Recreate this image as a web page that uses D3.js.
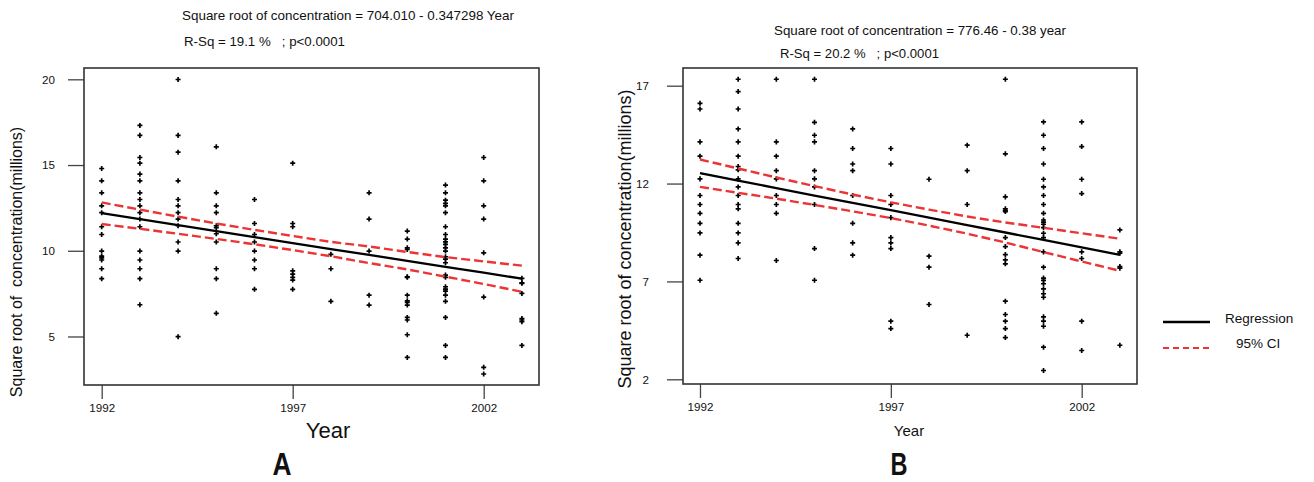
<!DOCTYPE html>
<html>
<head>
<meta charset="utf-8">
<script src="https://cdn.jsdelivr.net/npm/d3@7"></script>
<style>
body { margin: 0; background: #fff; }
text { font-family: "Liberation Sans", Arial, sans-serif; fill: #111; }
</style>
</head>
<body>
<div id="chart"></div>
<script>
var years = [1992, 1993, 1994, 1995, 1996, 1997, 1998, 1999, 2000, 2001, 2002, 2003];
var yearTicks = [1992, 1997, 2002];

// panel A values (square root of concentration), one list per year
var concA = [
  [14.80, 14.08, 13.38, 12.62, 12.22, 11.40, 10.95, 9.98, 9.69, 9.59, 9.46, 8.95, 8.37],
  [17.31, 16.73, 15.44, 15.11, 14.47, 14.08, 13.38, 12.99, 12.62, 12.22, 11.85, 11.40, 9.98, 9.46, 8.95, 8.37, 6.85],
  [19.99, 16.73, 15.75, 14.08, 12.99, 12.62, 12.22, 11.85, 11.46, 10.51, 9.98, 4.99],
  [16.06, 13.38, 12.62, 12.22, 11.46, 11.35, 10.99, 10.51, 8.95, 8.37, 6.35],
  [12.99, 11.59, 10.95, 10.51, 9.98, 9.46, 8.95, 7.75],
  [15.11, 11.59, 11.40, 8.83, 8.64, 8.45, 8.29, 7.75],
  [9.79, 8.95, 7.05],
  [13.38, 11.85, 9.98, 7.41, 6.83],
  [11.15, 10.68, 10.17, 10.08, 8.48, 8.45, 7.41, 7.08, 6.99, 6.83, 6.11, 5.96, 5.10, 3.78],
  [13.83, 13.38, 12.95, 12.76, 12.62, 12.22, 11.40, 10.95, 10.68, 10.52, 10.37, 10.17, 9.98, 9.65, 9.51, 9.30, 8.58, 8.45, 7.90, 7.76, 7.65, 7.41, 7.05, 6.11, 4.48, 3.78],
  [15.44, 14.08, 12.62, 11.85, 9.88, 7.30, 3.20, 2.81],
  [8.39, 8.13, 8.10, 7.51, 6.05, 5.96, 5.86, 4.48]
];
var fitA   = [12.19, 11.84, 11.49, 11.14, 10.80, 10.45, 10.10, 9.76, 9.41, 9.06, 8.72, 8.37];
var upperA = [12.82, 12.40, 11.99, 11.59, 11.22, 10.86, 10.52, 10.25, 9.93, 9.63, 9.38, 9.13];
var lowerA = [11.56, 11.28, 10.99, 10.69, 10.38, 10.04, 9.68, 9.28, 8.91, 8.49, 8.06, 7.61];
var yTicksA = [5, 10, 15, 20];

// panel B
var concB = [
  [16.10, 15.81, 14.13, 13.40, 12.24, 11.39, 10.93, 10.48, 9.97, 9.48, 8.34, 7.06],
  [17.33, 16.70, 15.81, 14.79, 14.13, 13.40, 12.87, 12.70, 12.24, 11.83, 11.39, 10.93, 10.71, 9.97, 9.48, 8.97, 8.17],
  [17.33, 14.13, 13.40, 12.66, 12.24, 11.39, 10.93, 10.48, 8.07],
  [17.33, 15.13, 14.47, 14.13, 12.66, 12.24, 11.83, 10.93, 8.68, 7.06],
  [14.79, 13.79, 13.00, 12.66, 11.39, 9.97, 8.97, 8.34],
  [13.79, 13.00, 11.39, 10.93, 10.26, 9.24, 8.97, 8.68, 4.97, 4.59],
  [12.22, 8.29, 7.73, 5.82],
  [13.96, 12.66, 10.93, 4.25],
  [17.33, 13.52, 11.32, 10.71, 10.62, 10.57, 9.24, 8.78, 8.37, 8.10, 7.90, 5.99, 5.31, 4.97, 4.59, 4.13],
  [15.15, 14.47, 13.79, 13.00, 12.22, 11.83, 11.39, 10.93, 10.48, 10.14, 10.03, 9.92, 9.75, 9.46, 9.24, 8.51, 7.73, 7.17, 7.05, 6.88, 6.62, 6.37, 6.19, 5.19, 4.97, 4.71, 3.64, 2.45],
  [15.15, 13.89, 12.22, 11.49, 8.51, 8.17, 4.97, 3.47],
  [9.63, 8.51, 8.44, 7.76, 7.68, 3.74]
];
var fitB   = [12.53, 12.15, 11.77, 11.39, 11.01, 10.64, 10.26, 9.88, 9.50, 9.12, 8.74, 8.36];
var upperB = [13.23, 12.77, 12.31, 11.87, 11.44, 11.04, 10.67, 10.32, 10.01, 9.74, 9.46, 9.18];
var lowerB = [11.83, 11.53, 11.23, 10.91, 10.58, 10.24, 9.85, 9.44, 8.99, 8.50, 8.02, 7.54];
var yTicksB = [2, 7, 12, 17];

var legendItems = ["Regression", "95% CI"];

var svg = d3.select("#chart").append("svg")
    .attr("width", 1314)
    .attr("height", 482);

var red = "#ec3434";

function drawPanel(p) {
  var x = d3.scaleLinear().domain(p.xDomain).range([p.left, p.right]);
  var y = d3.scaleLinear().domain(p.yDomain).range([p.bottom, p.top]);
  var g = svg.append("g");

  var yAxis = d3.axisLeft(y).tickValues(p.yTicks).tickSize(16).tickPadding(p.yPad).tickFormat(d3.format("d"));
  var ya = g.append("g").attr("transform", "translate(" + p.left + ",0)").call(yAxis);
  var xAxis = d3.axisBottom(x).tickValues(yearTicks).tickSize(14).tickPadding(5).tickFormat(d3.format("d"));
  var xa = g.append("g").attr("transform", "translate(0," + p.bottom + ")").call(xAxis);
  [ya, xa].forEach(function(a) {
    a.select(".domain").remove();
    a.selectAll("line").attr("stroke", "#444").attr("stroke-width", 1.3);
    a.selectAll("text").style("font-family", "'Liberation Sans', Arial, sans-serif").style("font-size", "11.6px").attr("fill", "#222");
  });

  g.append("rect")
    .attr("x", p.left).attr("y", p.top)
    .attr("width", p.right - p.left).attr("height", p.bottom - p.top)
    .attr("fill", "none").attr("stroke", "#333").attr("stroke-width", 1.6);

  var pts = [];
  p.conc.forEach(function(list, i) {
    list.forEach(function(v) { pts.push([years[i], v]); });
  });
  g.selectAll("path.pt").data(pts).enter().append("path")
    .attr("class", "pt")
    .attr("d", d3.symbol().type(d3.symbolCross).size(14))
    .attr("transform", function(d) { return "translate(" + x(d[0]) + "," + y(d[1]) + ")"; })
    .attr("fill", "#000");

  var line = d3.line().x(function(d, i) { return x(years[i]); }).y(function(d) { return y(d); });
  g.append("path").datum(p.fit).attr("d", line)
    .attr("fill", "none").attr("stroke", "#000").attr("stroke-width", 2.3);
  [p.upper, p.lower].forEach(function(s) {
    g.append("path").datum(s).attr("d", line)
      .attr("fill", "none").attr("stroke", red).attr("stroke-width", 2.4)
      .attr("stroke-dasharray", "9,4");
  });

  g.append("text")
    .attr("transform", "translate(" + p.yLabelX + "," + p.yLabelY + ") rotate(-90)")
    .attr("text-anchor", "middle").attr("dominant-baseline", "central")
    .attr("xml:space", "preserve")
    .style("font-size", p.yLabelSize + "px")
    .text(p.yLabel);

  g.append("text").attr("x", p.titleX).attr("y", p.titleY)
    .attr("dominant-baseline", "central").style("font-size", "13.4px")
    .attr("textLength", p.titleW).attr("lengthAdjust", "spacingAndGlyphs")
    .text(p.title);
  g.append("text").attr("x", p.rsqX).attr("y", p.rsqY)
    .attr("dominant-baseline", "central").style("font-size", "13.4px")
    .attr("xml:space", "preserve")
    .attr("textLength", p.rsqW).attr("lengthAdjust", "spacingAndGlyphs")
    .text(p.rsq);

  g.append("text").attr("x", p.yearX).attr("y", 430)
    .attr("text-anchor", "middle").attr("dominant-baseline", "central")
    .style("font-size", p.yearSize + "px")
    .text("Year");

  g.append("text").attr("x", p.letterX).attr("y", 475)
    .attr("text-anchor", "middle")
    .style("font-family", "'Liberation Sans Narrow', 'Arial Narrow', 'Liberation Sans', sans-serif")
    .style("font-weight", "bold").style("font-size", "32px")
    .attr("textLength", p.letterW).attr("lengthAdjust", "spacingAndGlyphs")
    .attr("fill", "#1a1a1a")
    .text(p.letter);
}

drawPanel({
  left: 84, right: 539, top: 68, bottom: 385,
  xDomain: [1991.537, 2003.448], yDomain: [2.17, 20.66],
  yTicks: yTicksA, yPad: 13,
  conc: concA, fit: fitA, upper: upperA, lower: lowerA,
  yLabel: "Square root of  concentration(millions)", yLabelX: 16, yLabelY: 262, yLabelSize: 16,
  title: "Square root of concentration = 704.010 - 0.347298 Year", titleX: 182, titleY: 15, titleW: 332,
  rsq: "R-Sq = 19.1 %   ; p<0.0001", rsqX: 184, rsqY: 41, rsqW: 161,
  yearX: 328, yearSize: 22, letter: "A", letterX: 282, letterW: 19
});

drawPanel({
  left: 683, right: 1137, top: 68, bottom: 384,
  xDomain: [1991.555, 2003.449], yDomain: [1.76, 17.904],
  yTicks: yTicksB, yPad: 18,
  conc: concB, fit: fitB, upper: upperB, lower: lowerB,
  yLabel: "Square root of concentration(millions)", yLabelX: 625, yLabelY: 239, yLabelSize: 18,
  title: "Square root of concentration = 776.46 - 0.38 year", titleX: 774, titleY: 30, titleW: 292,
  rsq: "R-Sq = 20.2 %   ; p<0.0001", rsqX: 780, rsqY: 53, rsqW: 159,
  yearX: 909, yearSize: 15, letter: "B", letterX: 899, letterW: 17
});

// legend
var legend = svg.append("g");
legend.selectAll("line").data(legendItems).enter().append("line")
  .attr("x1", 1163).attr("x2", 1210)
  .attr("y1", function(d, i) { return 322 + i * 26; })
  .attr("y2", function(d, i) { return 322 + i * 26; })
  .attr("stroke", function(d, i) { return i === 0 ? "#000" : red; })
  .attr("stroke-width", function(d, i) { return i === 0 ? 2.3 : 2.2; })
  .attr("stroke-dasharray", function(d, i) { return i === 0 ? null : "6,4"; });
legend.selectAll("text").data(legendItems).enter().append("text")
  .attr("x", function(d, i) { return i === 0 ? 1225 : 1236; })
  .attr("y", function(d, i) { return 318 + i * 25; })
  .attr("dominant-baseline", "central")
  .style("font-size", "13.5px")
  .text(function(d) { return d; });
</script>
</body>
</html>
